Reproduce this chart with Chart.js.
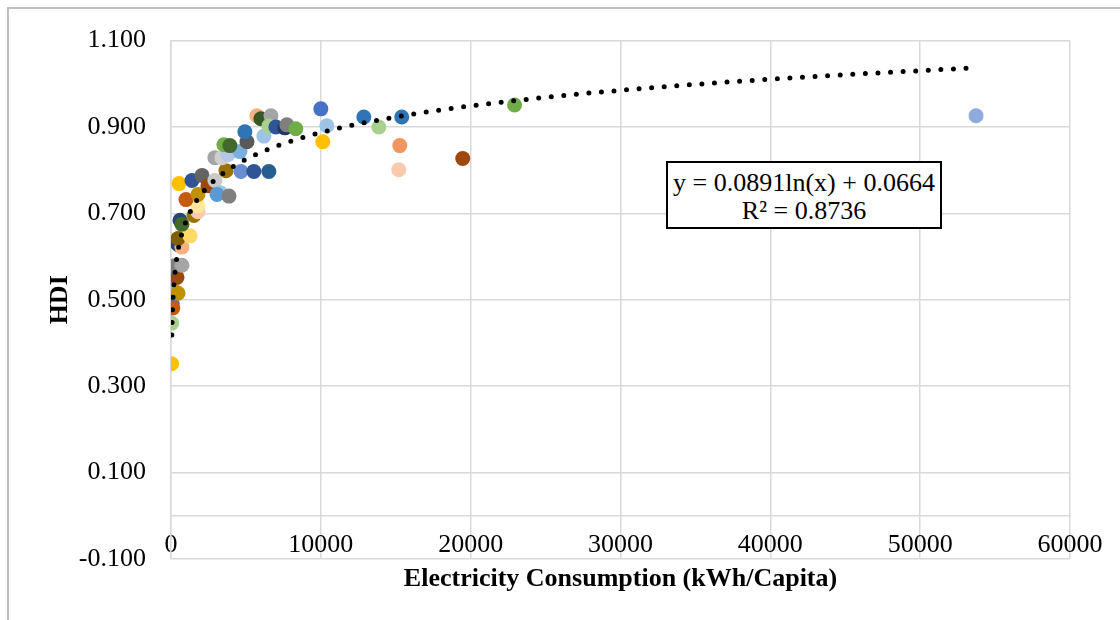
<!DOCTYPE html>
<html>
<head>
<meta charset="utf-8">
<script src="https://cdn.jsdelivr.net/npm/chart.js@4.4.1/dist/chart.umd.min.js"></script>
<style>
  html, body { margin: 0; padding: 0; background: #fff; }
  #wrap { position: relative; width: 1120px; height: 620px; overflow: hidden; }
  #frame { position: absolute; left: 7px; top: 7px; width: 1300px; height: 800px; border: 2px solid #bfbfbf; }
  #chart { position: absolute; left: 0; top: 0; }
  #eq {
    position: absolute; left: 666px; top: 161px; width: 276px; height: 68px;
    box-sizing: border-box; border: 2px solid #000; background: #fff;
    font-family: "Liberation Serif", "Times New Roman", serif; font-size: 26px;
    line-height: 28px; text-align: center; padding-top: 6px; color: #000;
  }
</style>
</head>
<body>
<div id="wrap">
  <div id="frame"></div>
  <canvas id="chart" width="1120" height="620"></canvas>
  <div id="eq">y = 0.0891ln(x) + 0.0664<br>R² = 0.8736</div>
</div>
<script>
// electricity consumption (kWh/capita) and HDI, one point per country
const consumption = [40, 50, 80, 120, 90, 470, 60, 400, 150, 730,
  470, 730, 470, 1270, 600, 730, 1530, 1800, 1800, 1000,
  1800, 530, 1400, 2070, 2470, 2930, 3270, 3070, 3870, 3670,
  4670, 5530, 6530, 2930, 3400, 3800, 4600, 3530, 3930, 5070,
  4930, 6200, 5730, 6000, 6670, 6530, 7000, 7600, 7730, 8330,
  10000, 10400, 10130, 12870, 13870, 15400, 15270, 15200, 19470, 22930,
  53730];
const hdi = [0.352, 0.446, 0.492, 0.481, 0.528, 0.515, 0.556, 0.552, 0.578, 0.580,
  0.628, 0.622, 0.642, 0.648, 0.684, 0.675, 0.695, 0.704, 0.718, 0.732,
  0.744, 0.769, 0.776, 0.788, 0.764, 0.776, 0.748, 0.744, 0.740, 0.799,
  0.797, 0.797, 0.797, 0.829, 0.829, 0.836, 0.843, 0.859, 0.857, 0.866,
  0.889, 0.879, 0.926, 0.919, 0.926, 0.902, 0.900, 0.898, 0.905, 0.896,
  0.942, 0.903, 0.866, 0.923, 0.900, 0.923, 0.857, 0.801, 0.827, 0.951,
  0.926];
const pointColors = ['#FFC000', '#A9D18E', '#4472C4', '#C55A11', '#8CC168', '#BF9000', '#ED7D31', '#9E480E', '#7F7F7F', '#A5A5A5',
  '#264478', '#F4B183', '#7F6000', '#FFD966', '#264478', '#43682B', '#997300', '#F8CBAD', '#FFE699', '#C55A11',
  '#BF9000', '#FFC000', '#2F5597', '#636363', '#9E480E', '#C9C9C9', '#9DC3E6', '#5B9BD5', '#7F7F7F', '#997300',
  '#698ED0', '#2F5597', '#255E91', '#A5A5A5', '#D0CECE', '#B4C7E7', '#7CAFDD', '#70AD47', '#43682B', '#595959',
  '#2E75B6', '#9DC3E6', '#F4B183', '#385723', '#A5A5A5', '#A9D18E', '#2F5597', '#1F3864', '#7F7F7F', '#70AD47',
  '#4472C4', '#9DC3E6', '#FFC000', '#2E75B6', '#A9D18E', '#2E75B6', '#F19660', '#F8CBAD', '#9E480E', '#70AD47',
  '#8FAADC'];

// log trendline shown in the chart: y = a*ln(x) + b
const trendA = 0.0891;
const trendB = 0.0664;
const trendFrom = 52;
const trendTo = 53730;

const xTicks = { min: 0, max: 60000, step: 10000 };
const yTicks = { min: -0.1, max: 1.1, step: 0.2 };

const points = consumption.map((x, i) => ({ x: x, y: hdi[i] }));

const trend = [];
const steps = 600;
for (let i = 0; i <= steps; i++) {
  const x = trendFrom * Math.pow(trendTo / trendFrom, i / steps);
  trend.push({ x: x, y: trendA * Math.log(x) + trendB });
}

const serif = '"Liberation Serif", "Times New Roman", serif';
const gridColor = '#d9d9d9';

new Chart(document.getElementById('chart'), {
  type: 'scatter',
  data: {
    datasets: [{
      label: 'trend',
      data: trend,
      showLine: true,
      pointRadius: 0,
      borderColor: '#000',
      borderWidth: 5,
      borderDash: [0, 12.6],
      borderCapStyle: 'round',
      order: 0
    }, {
      label: 'HDI',
      data: points,
      pointRadius: 7.5,
      pointBackgroundColor: pointColors,
      pointBorderWidth: 0,
      order: 1
    }]
  },
  options: {
    responsive: false,
    animation: false,
    events: [],
    layout: { padding: { left: 0, right: 50, top: 37, bottom: 61 } },
    plugins: { legend: { display: false }, tooltip: { enabled: false } },
    scales: {
      x: {
        type: 'linear',
        position: { y: 0 },
        min: xTicks.min,
        max: xTicks.max,
        ticks: {
          stepSize: xTicks.step,
          padding: 14,
          color: '#000',
          font: { family: serif, size: 26 },
          callback: v => String(v)
        },
        grid: { color: gridColor, lineWidth: 1.5, drawTicks: false },
        border: { color: gridColor, width: 1.5 },
        title: {
          display: true,
          text: 'Electricity Consumption (kWh/Capita)',
          color: '#000',
          font: { family: serif, size: 26, weight: 'bold' },
          padding: { top: -11, bottom: 0 }
        }
      },
      y: {
        type: 'linear',
        min: yTicks.min,
        max: yTicks.max,
        ticks: {
          stepSize: yTicks.step,
          padding: 25,
          color: '#000',
          font: { family: serif, size: 26 },
          callback: v => v.toFixed(3)
        },
        grid: { color: gridColor, lineWidth: 1.5, drawTicks: false },
        border: { color: gridColor, width: 1.5 },
        title: {
          display: true,
          text: 'HDI',
          color: '#000',
          font: { family: serif, size: 26, weight: 'bold' },
          padding: { top: 45, bottom: 0 }
        },
        afterFit: scale => { scale.width = 171; }
      }
    }
  }
});
</script>
</body>
</html>
